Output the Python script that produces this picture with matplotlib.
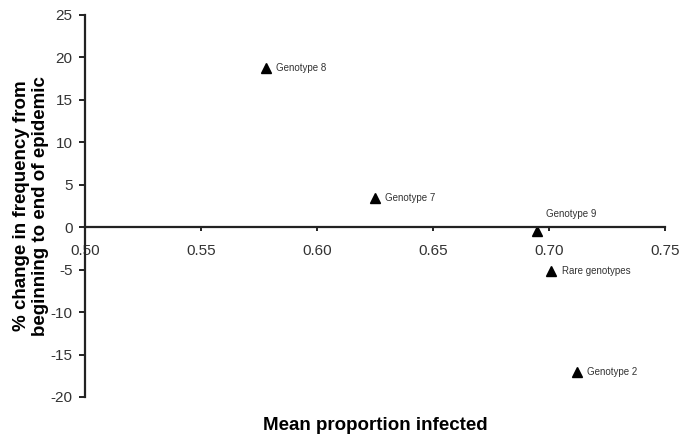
import matplotlib
matplotlib.use("Agg")
import matplotlib.pyplot as plt

plt.rcParams['font.family'] = ['Liberation Sans', 'DejaVu Sans']

genotypes = ['Genotype 8', 'Genotype 7', 'Genotype 9', 'Rare genotypes', 'Genotype 2']
mean_infected = [0.578, 0.625, 0.695, 0.701, 0.712]
pct_change = [18.8, 3.5, -0.4, -5.2, -17.1]

x_ticks = [0.50, 0.55, 0.60, 0.65, 0.70, 0.75]
y_ticks = [25, 20, 15, 10, 5, 0, -5, -10, -15, -20]


def main():
    fig = plt.figure(figsize=(6.82, 4.37), dpi=100)
    ax = fig.add_axes([85 / 682, 40 / 437, 580 / 682, 382 / 437])

    ax.plot(mean_infected, pct_change, linestyle='none', marker='^',
            markersize=7, color='black')

    # labels sit to the right of each marker; genotype 9 goes above the axis line
    for name, x, y in zip(genotypes, mean_infected, pct_change):
        if name == 'Genotype 9':
            ax.annotate(name, (x, y), xytext=(6, 12), textcoords='offset points',
                        fontsize=7, color='#333333', va='center', ha='left')
        else:
            ax.annotate(name, (x, y), xytext=(7.5, 0), textcoords='offset points',
                        fontsize=7, color='#333333', va='center', ha='left')

    ax.set_xlim(0.50, 0.75)
    ax.set_ylim(-20, 25)
    ax.set_xticks(x_ticks)
    ax.set_xticklabels(['%.2f' % v for v in x_ticks])
    ax.set_yticks(y_ticks)
    ax.set_yticklabels([str(v) for v in y_ticks])

    ax.spines['top'].set_visible(False)
    ax.spines['right'].set_visible(False)
    ax.spines['bottom'].set_position(('data', 0))
    for s in ['left', 'bottom']:
        ax.spines[s].set_linewidth(1.6)
        ax.spines[s].set_color('#222222')

    ax.tick_params(axis='x', direction='out', length=3, width=1.4, pad=9,
                   labelsize=11, labelcolor='#333333', color='#222222')
    ax.tick_params(axis='y', direction='out', length=4, width=1.4, pad=5,
                   labelsize=11, labelcolor='#333333', color='#222222')

    ax.set_xlabel('Mean proportion infected', fontsize=13.5, fontweight='bold')
    ax.xaxis.label.set_va('center')
    ax.xaxis.set_label_coords(0.5, (437 - 426 - 40) / 382)
    ax.set_ylabel('% change in frequency from\nbeginning to end of epidemic',
                  fontsize=13.5, fontweight='bold', linespacing=1.15)
    ax.yaxis.set_label_coords((31 - 85) / 580, 0.5)
    ax.yaxis.label.set_va('center')

    plt.savefig('out.png', dpi=100)


if __name__ == "__main__":
    main()
